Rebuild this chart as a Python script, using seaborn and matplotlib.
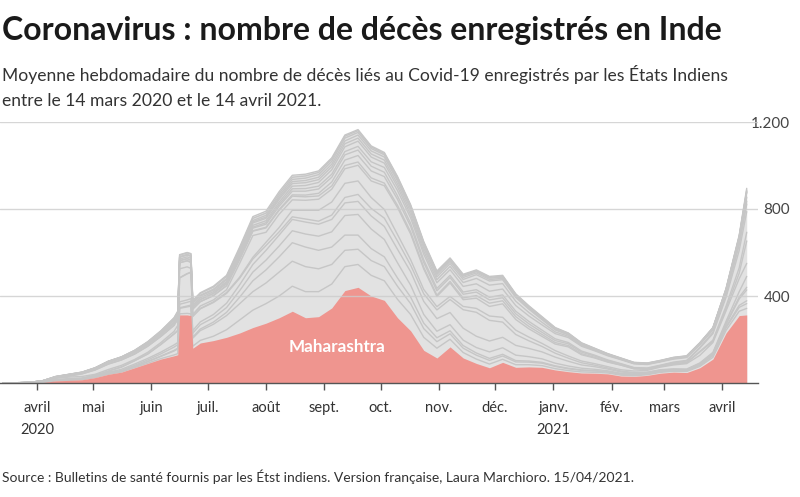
import matplotlib
matplotlib.use("Agg")
import matplotlib.pyplot as plt
import numpy as np
import pandas as pd
import seaborn as sns

# sample dates (weekly, plus the June 2020 reconciliation spike and the last day)
dates = [
    "2020-03-14", "2020-03-21", "2020-03-28", "2020-04-04", "2020-04-11", "2020-04-18",
    "2020-04-25", "2020-05-02", "2020-05-09", "2020-05-16", "2020-05-23", "2020-05-30",
    "2020-06-06", "2020-06-13", "2020-06-15", "2020-06-16", "2020-06-20", "2020-06-22",
    "2020-06-23", "2020-06-27", "2020-07-04", "2020-07-11", "2020-07-18", "2020-07-25",
    "2020-08-01", "2020-08-08", "2020-08-15", "2020-08-22", "2020-08-29", "2020-09-05",
    "2020-09-12", "2020-09-19", "2020-09-26", "2020-10-03", "2020-10-10", "2020-10-17",
    "2020-10-24", "2020-10-31", "2020-11-07", "2020-11-14", "2020-11-21", "2020-11-28",
    "2020-12-05", "2020-12-12", "2020-12-19", "2020-12-26", "2021-01-02", "2021-01-09",
    "2021-01-16", "2021-01-23", "2021-01-30", "2021-02-06", "2021-02-13", "2021-02-20",
    "2021-02-27", "2021-03-06", "2021-03-13", "2021-03-20", "2021-03-27", "2021-04-03",
    "2021-04-10", "2021-04-14",
]

# weekly average of deaths, whole country
total = [0, 1, 3, 10, 30, 40, 50, 70, 100, 120, 150, 190, 240, 300, 330, 590, 600, 595,
         380, 415, 445, 495, 626, 765, 790, 880, 955, 960, 975, 1035, 1140, 1165, 1090,
         1060, 950, 820, 650, 515, 575, 500, 520, 490, 495, 410, 355, 305, 255, 230, 185,
         160, 135, 115, 95, 92, 104, 118, 125, 185, 255, 435, 680, 895]

maharashtra = [0, 0, 1, 2, 10, 12, 15, 25, 40, 50, 70, 90, 110, 125, 130, 313, 313, 310,
               160, 184, 195, 210, 230, 255, 275, 300, 330, 300, 305, 345, 425, 440, 400,
               380, 300, 240, 150, 115, 166, 115, 90, 70, 95, 72, 74, 72, 60, 52, 46, 45,
               42, 32, 30, 35, 45, 50, 48, 70, 110, 230, 310, 313]

karnataka = [0, 0, 0, 0, 1, 1, 1, 1, 1, 1, 1, 1, 2, 4, 5, 5, 7, 8, 9, 12, 20, 35, 60, 80,
             90, 100, 115, 120, 115, 110, 110, 105, 95, 90, 85, 75, 60, 45, 35, 25, 20, 17,
             14, 12, 10, 8, 6, 5, 5, 4, 4, 4, 3, 3, 4, 4, 5, 6, 8, 12, 20, 30]

tamil_nadu = [0, 0, 0, 0, 1, 1, 1, 1, 1, 2, 4, 7, 10, 18, 22, 25, 30, 35, 37, 45, 55, 65,
              75, 85, 95, 110, 115, 115, 105, 90, 75, 70, 68, 65, 60, 50, 40, 30, 25, 20,
              18, 17, 15, 13, 12, 11, 10, 8, 7, 6, 5, 5, 4, 4, 4, 4, 4, 5, 8, 12, 18, 22]

andhra_pradesh = [0, 0, 0, 0, 1, 1, 1, 1, 1, 1, 1, 1, 2, 3, 3, 3, 4, 5, 5, 7, 10, 15, 30,
                  50, 60, 70, 85, 90, 85, 80, 70, 65, 55, 45, 38, 30, 25, 18, 14, 12, 10,
                  9, 8, 6, 5, 4, 3, 3, 2, 2, 1, 1, 1, 1, 1, 1, 1, 2, 3, 5, 9, 13]

uttar_pradesh = [0, 0, 0, 0, 0, 1, 1, 2, 3, 4, 5, 7, 10, 15, 16, 16, 17, 18, 18, 20, 20,
                 22, 30, 40, 45, 50, 55, 60, 65, 70, 90, 95, 90, 80, 70, 55, 40, 30, 28,
                 25, 25, 30, 30, 25, 20, 16, 12, 10, 8, 6, 4, 3, 3, 2, 2, 2, 2, 3, 4, 10,
                 30, 50]

bengale = [0, 0, 0, 0, 1, 1, 1, 2, 3, 5, 6, 7, 8, 10, 10, 11, 11, 12, 12, 13, 15, 20, 27,
           35, 45, 50, 52, 55, 55, 57, 58, 60, 60, 60, 62, 62, 60, 58, 56, 55, 52, 50, 48,
           45, 38, 32, 28, 22, 15, 12, 8, 6, 4, 3, 3, 2, 2, 3, 3, 5, 8, 12]

delhi = [0, 0, 0, 0, 1, 2, 2, 3, 5, 10, 15, 20, 35, 50, 55, 110, 120, 120, 65, 60, 55, 45,
         30, 25, 22, 15, 12, 14, 14, 20, 25, 32, 35, 38, 38, 30, 35, 40, 60, 85, 110, 95,
         70, 50, 35, 25, 18, 14, 10, 7, 5, 4, 3, 2, 2, 2, 2, 3, 5, 10, 25, 50]

pendjab = [0, 0, 0, 0, 0, 0, 0, 0, 1, 1, 1, 1, 1, 1, 1, 1, 1, 2, 2, 2, 3, 4, 5, 8, 15, 20,
           30, 40, 50, 60, 65, 62, 50, 40, 30, 25, 20, 15, 14, 15, 18, 20, 22, 20, 17, 14,
           12, 10, 8, 7, 6, 6, 7, 8, 12, 18, 25, 35, 45, 48, 60, 60]

gujarat = [0, 0, 1, 1, 2, 5, 12, 20, 25, 25, 25, 28, 28, 28, 28, 28, 28, 28, 25, 20, 20,
           18, 18, 20, 20, 18, 17, 16, 15, 15, 15, 15, 14, 12, 10, 10, 8, 6, 7, 8, 12, 15,
           14, 13, 11, 9, 7, 6, 5, 3, 2, 1, 1, 1, 1, 2, 2, 3, 5, 12, 25, 40]

chhattisgarh = [0, 0, 0, 0, 0, 0, 0, 0, 0, 0, 0, 0, 0, 0, 0, 0, 0, 0, 0, 0, 0, 1, 1, 2, 3,
                4, 6, 8, 12, 18, 25, 30, 32, 30, 28, 25, 22, 20, 18, 17, 16, 15, 14, 13,
                12, 10, 9, 8, 7, 6, 5, 4, 3, 3, 3, 4, 6, 15, 30, 40, 80, 95]

madhya_pradesh = [0, 0, 0, 1, 4, 5, 5, 6, 8, 8, 8, 8, 8, 9, 9, 9, 9, 9, 9, 9, 9, 9, 10,
                  12, 14, 15, 17, 18, 20, 22, 24, 25, 22, 20, 16, 14, 12, 11, 10, 10, 11,
                  12, 13, 12, 11, 10, 8, 6, 5, 4, 3, 2, 2, 2, 2, 3, 3, 4, 6, 12, 25, 35]

kerala = [0, 0, 0, 0, 0, 0, 0, 0, 0, 0, 0, 0, 0, 1, 1, 1, 1, 1, 1, 1, 2, 3, 4, 5, 7, 9,
          11, 12, 13, 14, 15, 17, 20, 22, 24, 25, 26, 26, 26, 26, 27, 28, 27, 26, 25, 24,
          24, 23, 22, 20, 19, 18, 17, 16, 15, 14, 13, 12, 11, 11, 12, 13]

haryana = [0, 0, 0, 0, 0, 0, 0, 0, 0, 0, 1, 2, 4, 6, 7, 7, 8, 8, 8, 8, 7, 6, 7, 8, 9, 10,
           12, 14, 17, 20, 22, 24, 22, 20, 17, 15, 14, 14, 15, 18, 25, 28, 25, 20, 16, 12,
           8, 6, 4, 3, 3, 2, 2, 2, 2, 2, 2, 3, 4, 6, 10, 18]

rajasthan = [0, 0, 0, 0, 1, 2, 2, 3, 4, 5, 6, 7, 8, 9, 9, 9, 9, 10, 10, 9, 8, 9, 10, 11,
             11, 12, 12, 13, 13, 14, 14, 14, 14, 14, 14, 14, 14, 13, 13, 14, 17, 19, 18,
             17, 15, 12, 9, 6, 4, 3, 3, 2, 1, 1, 1, 2, 2, 2, 3, 6, 12, 22]

odisha = [0, 0, 0, 0, 0, 0, 0, 0, 0, 0, 0, 0, 0, 0, 0, 0, 0, 0, 0, 0, 0, 1, 3, 5, 6, 8, 9,
          10, 11, 12, 13, 14, 14, 14, 14, 13, 12, 11, 10, 9, 8, 7, 6, 5, 5, 4, 3, 2, 2, 1,
          1, 1, 1, 1, 1, 1, 1, 1, 1, 1, 2, 3]

jammu_cachemire = [0, 0, 0, 0, 0, 0, 0, 0, 0, 0, 0, 0, 0, 1, 1, 1, 1, 2, 2, 2, 3, 4, 5, 6,
                   8, 9, 10, 11, 12, 13, 13, 12, 11, 10, 9, 9, 8, 7, 7, 7, 6, 6, 6, 6, 5,
                   4, 3, 3, 2, 2, 1, 1, 1, 1, 1, 1, 1, 1, 1, 1, 2, 3]

telangana = [0, 0, 0, 0, 1, 1, 1, 1, 1, 1, 2, 3, 5, 7, 8, 8, 8, 8, 8, 9, 10, 10, 10, 10,
             10, 10, 10, 10, 10, 10, 9, 8, 7, 6, 6, 5, 5, 4, 4, 4, 4, 4, 4, 3, 3, 3, 3, 2,
             2, 2, 1, 1, 1, 1, 1, 1, 1, 1, 1, 2, 3, 5]

bihar = [0, 0, 0, 0, 0, 0, 0, 0, 0, 0, 0, 1, 1, 2, 2, 2, 2, 2, 2, 3, 4, 5, 7, 8, 9, 9, 9,
         8, 7, 6, 5, 5, 5, 5, 5, 5, 5, 5, 5, 4, 4, 4, 4, 3, 3, 3, 2, 2, 2, 1, 1, 1, 1, 1,
         1, 1, 1, 1, 1, 2, 4, 8]

month_ticks = ["2020-04-01", "2020-05-01", "2020-06-01", "2020-07-01", "2020-08-01",
               "2020-09-01", "2020-10-01", "2020-11-01", "2020-12-01", "2021-01-01",
               "2021-02-01", "2021-03-01", "2021-04-01"]
month_labels = ["avril\n2020", "mai", "juin", "juil.", "août", "sept.", "oct.", "nov.",
                "déc.", "janv.\n2021", "fév.", "mars", "avril"]
y_ticks = [400, 800, 1200]
y_labels = ["400", "800", "1.200"]

RED = "#ef958f"
GREY_FILL = "#e2e2e2"
GREY_LINE = "#c6c6c6"
TEXT = "#333333"

sns.set_theme(style="white")
plt.rcParams["font.family"] = ["Lato", "DejaVu Sans"]

df = pd.DataFrame({
    "date": pd.to_datetime(dates),
    "Maharashtra": maharashtra,
    "Karnataka": karnataka,
    "Tamil Nadu": tamil_nadu,
    "Andhra Pradesh": andhra_pradesh,
    "Uttar Pradesh": uttar_pradesh,
    "Bengale-Occidental": bengale,
    "Delhi": delhi,
    "Pendjab": pendjab,
    "Gujarat": gujarat,
    "Chhattisgarh": chhattisgarh,
    "Madhya Pradesh": madhya_pradesh,
    "Kerala": kerala,
    "Haryana": haryana,
    "Rajasthan": rajasthan,
    "Odisha": odisha,
    "Jammu-et-Cachemire": jammu_cachemire,
    "Telangana": telangana,
    "Bihar": bihar,
})
named = [c for c in df.columns if c != "date"]
df["Autres"] = (pd.Series(total) - df[named].sum(axis=1)).clip(lower=0)

# stacking order: big states first, the remainder, then the many small states on top
order = ["Maharashtra", "Karnataka", "Tamil Nadu", "Andhra Pradesh", "Uttar Pradesh",
         "Bengale-Occidental", "Delhi", "Pendjab", "Autres", "Gujarat", "Chhattisgarh",
         "Madhya Pradesh", "Kerala", "Haryana", "Rajasthan", "Odisha",
         "Jammu-et-Cachemire", "Telangana", "Bihar"]
cum = df[order].cumsum(axis=1)

fig = plt.figure(figsize=(8, 4.97), dpi=100)
ax = fig.add_axes([0, 1 - 383 / 497, 758 / 800, (383 - 122) / 497])

ax.fill_between(df["date"], 0, cum[order[-1]], color=GREY_FILL, lw=0, zorder=1)
ax.fill_between(df["date"], 0, cum["Maharashtra"], color=RED, lw=0, zorder=3)

boundaries = cum[order[1:]].copy()
boundaries["date"] = df["date"]
long = boundaries.melt(id_vars="date", var_name="etat", value_name="cumul")
sns.lineplot(data=long, x="date", y="cumul", units="etat", estimator=None,
             color=GREY_LINE, lw=1.0, ax=ax, zorder=2)

ax.set_xlim(pd.Timestamp("2020-03-12 08:00"), pd.Timestamp("2021-04-20"))
ax.set_ylim(0, 1200)
ax.set_xlabel("")
ax.set_ylabel("")

for y in y_ticks:
    ax.axhline(y, color="#cccccc", lw=1, zorder=4, alpha=0.8)

# value labels on the right, right-aligned at about x=790 px
ax.yaxis.tick_right()
ax.set_yticks(y_ticks)
ax.set_yticklabels(y_labels)
ax.tick_params(axis="y", length=0, pad=23, labelsize=11, labelcolor="#444444")
for lab in ax.get_yticklabels():
    lab.set_horizontalalignment("right")

ax.set_xticks(pd.to_datetime(month_ticks))
ax.set_xticklabels(month_labels, linespacing=1.75)
ax.tick_params(axis="x", bottom=True, length=5, width=1, color="#555555", pad=8,
               labelsize=10.5, labelcolor=TEXT)
for lab in ax.get_xticklabels():
    lab.set_verticalalignment("top")

for side in ["top", "left", "right"]:
    ax.spines[side].set_visible(False)
ax.spines["bottom"].set_color("#555555")
ax.spines["bottom"].set_linewidth(1)
ax.spines["bottom"].set_zorder(5)

ax.text(pd.Timestamp("2020-09-08"), 166, "Maharashtra", color="white", fontsize=12.3,
        fontweight="bold", ha="center", va="center", zorder=6)

fig.text(2 / 800, 1 - 40 / 497, "Coronavirus : nombre de décès enregistrés en Inde",
         fontsize=23, fontweight="bold", color="#1a1a1a", va="baseline", ha="left")
fig.text(2 / 800, 1 - 81 / 497,
         "Moyenne hebdomadaire du nombre de décès liés au Covid-19 enregistrés par les États Indiens",
         fontsize=12.6, color=TEXT, va="baseline", ha="left")
fig.text(2 / 800, 1 - 106 / 497, "entre le 14 mars 2020 et le 14 avril 2021.",
         fontsize=12.6, color=TEXT, va="baseline", ha="left")
fig.text(2 / 800, 1 - 482 / 497,
         "Source : Bulletins de santé fournis par les Étst indiens. Version française, Laura Marchioro. 15/04/2021.",
         fontsize=10, color=TEXT, va="baseline", ha="left")

fig.savefig("out.png", dpi=100)
plt.close(fig)
